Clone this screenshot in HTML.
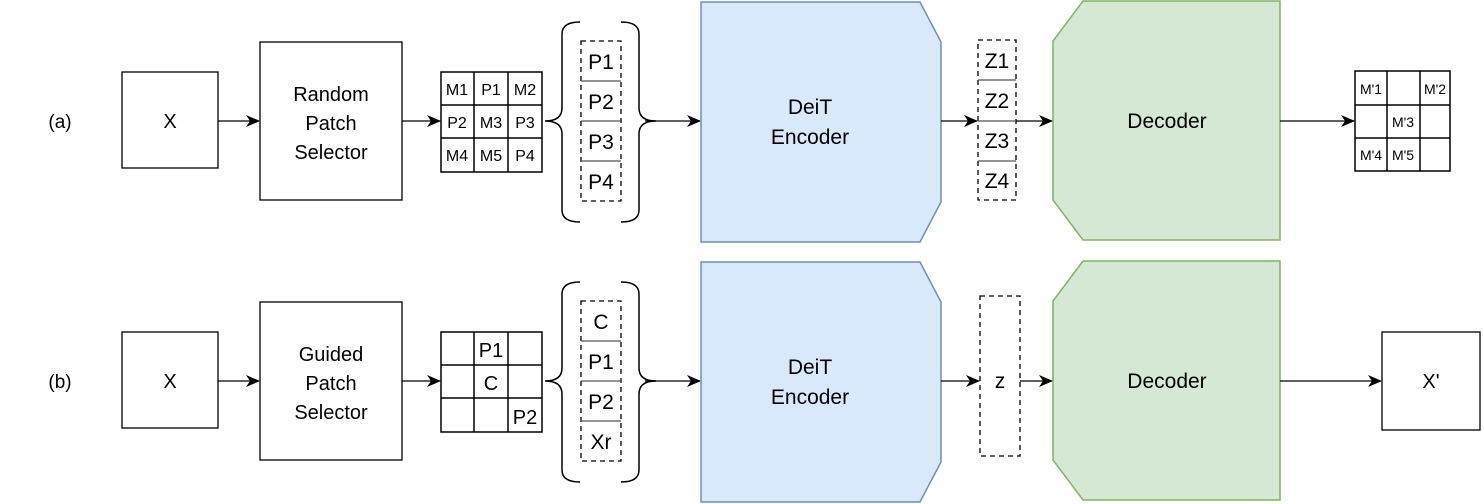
<!DOCTYPE html>
<html><head><style>body{margin:0;background:#fff}svg{display:block}text{font-family:"Liberation Sans",Arial,sans-serif;fill:#000}</style></head><body>
<svg width="1484" height="504" viewBox="0 0 1484 504" xmlns="http://www.w3.org/2000/svg">
<defs><marker id="ar" markerWidth="14" markerHeight="12" refX="13" refY="6" orient="auto" markerUnits="userSpaceOnUse"><path d="M0,0 L14,6 L0,12 L4,6 Z" fill="#000"/></marker></defs>
<g id="rowA">
<text x="60" y="128" font-size="19" text-anchor="middle">(a)</text>
<rect x="122" y="72" width="96" height="96" fill="#fff" stroke="#000" stroke-width="1.3"/>
<text x="170" y="128" font-size="20" text-anchor="middle">X</text>
<line x1="218" y1="121" x2="259" y2="121" stroke="#000" stroke-width="1.3" marker-end="url(#ar)"/>
<rect x="260" y="42" width="142" height="158" fill="#fff" stroke="#000" stroke-width="1.3"/>
<text x="331" y="101" font-size="20" text-anchor="middle">Random</text>
<text x="331" y="130" font-size="20" text-anchor="middle">Patch</text>
<text x="331" y="159" font-size="20" text-anchor="middle">Selector</text>
<line x1="402" y1="121" x2="440" y2="121" stroke="#000" stroke-width="1.3" marker-end="url(#ar)"/>
<g stroke="#000" stroke-width="1.5" fill="none"><rect x="441" y="72" width="101" height="100"/><line x1="474" y1="72" x2="474" y2="172"/><line x1="508" y1="72" x2="508" y2="172"/><line x1="441" y1="105" x2="542" y2="105"/><line x1="441" y1="138" x2="542" y2="138"/></g>
<g font-size="16" text-anchor="middle"><text x="457" y="95">M1</text><text x="491" y="95">P1</text><text x="525" y="95">M2</text><text x="457" y="128">P2</text><text x="491" y="128">M3</text><text x="525" y="128">P3</text><text x="457" y="161">M4</text><text x="491" y="161">M5</text><text x="525" y="161">P4</text></g>
</g>
<g id="rowB">
<text x="60" y="388" font-size="19" text-anchor="middle">(b)</text>
<rect x="122" y="332" width="96" height="96" fill="#fff" stroke="#000" stroke-width="1.3"/>
<text x="170" y="388" font-size="20" text-anchor="middle">X</text>
<line x1="218" y1="381" x2="259" y2="381" stroke="#000" stroke-width="1.3" marker-end="url(#ar)"/>
<rect x="260" y="302" width="142" height="158" fill="#fff" stroke="#000" stroke-width="1.3"/>
<text x="331" y="361" font-size="20" text-anchor="middle">Guided</text>
<text x="331" y="390" font-size="20" text-anchor="middle">Patch</text>
<text x="331" y="419" font-size="20" text-anchor="middle">Selector</text>
<line x1="402" y1="381" x2="440" y2="381" stroke="#000" stroke-width="1.3" marker-end="url(#ar)"/>
<g stroke="#000" stroke-width="1.5" fill="none"><rect x="441" y="332" width="101" height="100"/><line x1="474" y1="332" x2="474" y2="432"/><line x1="508" y1="332" x2="508" y2="432"/><line x1="441" y1="365" x2="542" y2="365"/><line x1="441" y1="398" x2="542" y2="398"/></g>
<g font-size="20" text-anchor="middle"><text x="491" y="357">P1</text><text x="491" y="390">C</text><text x="525" y="424">P2</text></g>
</g>
<g fill="none" stroke="#000" stroke-width="1.5">
<path d="M580,22 Q562,22 562,34 L562,108 Q562,121 545,121 Q562,121 562,134 L562,210 Q562,222 580,222"/>
<path d="M621,22 Q639,22 639,34 L639,108 Q639,121 656,121 Q639,121 639,134 L639,210 Q639,222 621,222"/>
<path d="M580,282 Q562,282 562,294 L562,368 Q562,381 545,381 Q562,381 562,394 L562,470 Q562,482 580,482"/>
<path d="M621,282 Q639,282 639,294 L639,368 Q639,381 656,381 Q639,381 639,394 L639,470 Q639,482 621,482"/>
</g>
<g fill="none" stroke="#000" stroke-width="1.3" stroke-dasharray="5,4">
<rect x="581" y="41" width="40" height="160"/><rect x="581" y="301" width="40" height="160"/>
<rect x="978" y="40" width="38" height="160"/><rect x="980" y="296" width="40" height="160"/>
</g>
<g stroke="#555" stroke-width="1.3"><line x1="581" y1="81" x2="621" y2="81"/><line x1="581" y1="121" x2="621" y2="121"/><line x1="581" y1="161" x2="621" y2="161"/>
<line x1="581" y1="341" x2="621" y2="341"/><line x1="581" y1="381" x2="621" y2="381"/><line x1="581" y1="421" x2="621" y2="421"/>
<line x1="978" y1="80" x2="1016" y2="80"/><line x1="978" y1="121" x2="1016" y2="121"/><line x1="978" y1="161" x2="1016" y2="161"/></g>
<g font-size="21" text-anchor="middle">
<text x="601" y="69">P1</text><text x="601" y="109">P2</text><text x="601" y="149">P3</text><text x="601" y="189">P4</text>
<text x="601" y="329">C</text><text x="601" y="369">P1</text><text x="601" y="409">P2</text><text x="601" y="449">Xr</text>
<text x="997" y="68">Z1</text><text x="997" y="108">Z2</text><text x="997" y="148">Z3</text><text x="997" y="188">Z4</text>
<text x="1000" y="388">z</text>
</g>
<line x1="645" y1="121" x2="700" y2="121" stroke="#000" stroke-width="1.3" marker-end="url(#ar)"/>
<line x1="645" y1="381" x2="700" y2="381" stroke="#000" stroke-width="1.3" marker-end="url(#ar)"/>
<path d="M701,2 L920,2 L941,42 L941,202 L920,242 L701,242 Z" fill="#dae8fc" stroke="#6c8ebf" stroke-width="1.5"/>
<path d="M701,262 L920,262 L941,302 L941,462 L920,502 L701,502 Z" fill="#dae8fc" stroke="#6c8ebf" stroke-width="1.5"/>
<g font-size="21" text-anchor="middle"><text x="810" y="114">DeiT</text><text x="810" y="144">Encoder</text><text x="810" y="374">DeiT</text><text x="810" y="404">Encoder</text></g>
<path d="M1083,1 L1280,1 L1280,240 L1083,240 L1053,200 L1053,41 Z" fill="#d5e8d4" stroke="#82b366" stroke-width="1.5"/>
<path d="M1083,261 L1280,261 L1280,500 L1083,500 L1053,460 L1053,301 Z" fill="#d5e8d4" stroke="#82b366" stroke-width="1.5"/>
<g font-size="21" text-anchor="middle"><text x="1167" y="128">Decoder</text><text x="1167" y="388">Decoder</text></g>
<g stroke="#000" stroke-width="1.3">
<line x1="941" y1="121" x2="977" y2="121" marker-end="url(#ar)"/><line x1="1016" y1="121" x2="1052" y2="121" marker-end="url(#ar)"/>
<line x1="941" y1="381" x2="979" y2="381" marker-end="url(#ar)"/><line x1="1020" y1="381" x2="1052" y2="381" marker-end="url(#ar)"/>
<line x1="1280" y1="121" x2="1354" y2="121" marker-end="url(#ar)"/><line x1="1280" y1="381" x2="1381" y2="381" marker-end="url(#ar)"/>
</g>
<g stroke="#000" stroke-width="1.5" fill="none"><rect x="1355" y="71" width="95" height="100"/><line x1="1387" y1="71" x2="1387" y2="171"/><line x1="1420" y1="71" x2="1420" y2="171"/><line x1="1355" y1="105" x2="1450" y2="105"/><line x1="1355" y1="138" x2="1450" y2="138"/></g>
<g font-size="14" text-anchor="middle"><text x="1371" y="94">M'1</text><text x="1435" y="94">M'2</text><text x="1403" y="127">M'3</text><text x="1371" y="160">M'4</text><text x="1403" y="160">M'5</text></g>
<rect x="1382" y="332" width="98" height="98" fill="#fff" stroke="#000" stroke-width="1.3"/>
<text x="1431" y="388" font-size="20" text-anchor="middle">X'</text>
</svg>
</body></html>
